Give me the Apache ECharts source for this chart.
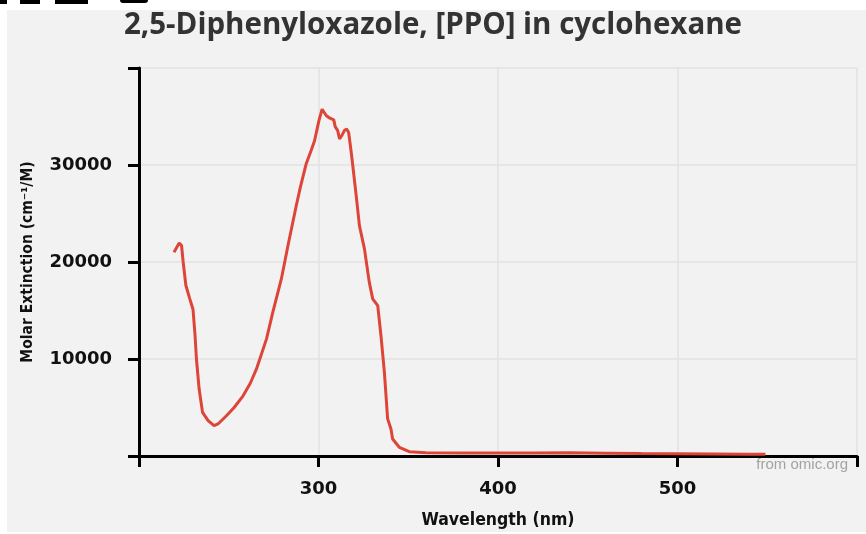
<!DOCTYPE html>
<html>
<head>
<meta charset="utf-8">
<script src="https://cdn.jsdelivr.net/npm/echarts@6/dist/echarts.min.js"></script>
<style>
html,body{margin:0;padding:0;background:#ffffff;width:866px;height:534px;overflow:hidden;}
#bg{position:absolute;left:7px;top:10px;width:859px;height:522px;background:#f2f2f2;}
.blob{position:absolute;top:0;height:4px;background:#000;}
#chart{position:absolute;left:0;top:0;width:866px;height:534px;}
</style>
</head>
<body>
<div id="bg"></div>
<div class="blob" style="left:0;width:7px"></div>
<div class="blob" style="left:20px;width:20px"></div>
<div class="blob" style="left:55px;width:33px"></div>
<div class="blob" style="left:120px;width:28px;height:3px;border-radius:0 0 14px 14px"></div>
<div id="chart"></div>
<script>
const titleText = '2,5-Diphenyloxazole, [PPO] in cyclohexane';
const xAxisName = 'Wavelength (nm)';
const yAxisName = 'Molar Extinction (cm\u207B\u00B9/M)';
const sourceText = 'from omic.org';
const xTicks = [200, 300, 400, 500, 600];
const yTicks = [0, 10000, 20000, 30000, 40000];

const wavelengths = [219.5, 222.4, 223.7, 224.6, 226.1, 228.3, 230.1, 231.2, 232.0, 233.5,
  235.4, 238.5, 241.8, 244.0, 248.7, 253.0, 258.0, 262.0, 265.4, 271.0,
  274.6, 279.3, 283.0, 287.6, 290.0, 293.1, 295.9, 297.8, 300.2, 302.0,
  304.3, 306.1, 308.5, 309.3, 310.7, 311.7, 312.9, 314.4, 315.7, 316.8,
  318.1, 319.0, 321.0, 322.8, 325.6, 328.3, 330.2, 333.0, 334.8, 336.7,
  338.5, 340.4, 341.3, 345.0, 350.6, 359.8, 380, 400, 420, 440,
  460, 480, 500, 520, 540, 549];
const extinction = [21000, 21950, 21700, 20000, 17600, 16200, 15100, 12500, 10000, 6900,
  4500, 3650, 3120, 3300, 4150, 5000, 6200, 7500, 8950, 12050,
  14850, 18250, 21700, 25800, 27800, 30100, 31500, 32500, 34550, 35750,
  35100, 34850, 34650, 33950, 33550, 32700, 33000, 33550, 33700, 33350,
  31500, 30100, 26850, 23750, 21350, 17900, 16200, 15500, 12400, 8650,
  3850, 2750, 1750, 900, 450, 340, 310, 320, 300, 330,
  290, 250, 230, 210, 180, 170];

const seriesData = wavelengths.map((w, i) => [w, extinction[i]]);

const chart = echarts.init(document.getElementById('chart'), null, {renderer: 'canvas'});
chart.setOption({
  backgroundColor: 'transparent',
  animation: false,
  title: {
    text: titleText,
    left: 'center',
    top: 6,
    textStyle: {fontFamily: 'Open Sans', fontWeight: 'bold', fontSize: 29.5, color: '#333333'}
  },
  graphic: [{
    type: 'text',
    right: 18,
    top: 457,
    style: {text: sourceText, fill: '#a3a3a3', font: '15px "Liberation Sans"'}
  }],
  grid: {left: 139, right: 9, top: 68, bottom: 77},
  xAxis: {
    type: 'value',
    min: xTicks[0], max: xTicks[xTicks.length - 1], interval: 100,
    name: xAxisName,
    nameLocation: 'middle',
    nameGap: 55,
    nameTextStyle: {fontFamily: 'DejaVu Sans Condensed', fontWeight: 'bold', fontSize: 17.5, color: '#111'},
    axisLine: {show: true, lineStyle: {color: '#000', width: 3}},
    axisTick: {show: true, length: 11, lineStyle: {color: '#000', width: 3}},
    axisLabel: {
      margin: 24,
      fontFamily: 'DejaVu Sans', fontWeight: 'bold', fontSize: 18, color: '#111',
      formatter: v => (v === xTicks[0] || v === xTicks[xTicks.length - 1]) ? '' : String(v)
    },
    splitLine: {show: true, lineStyle: {color: '#e2e2e2', width: 1.5}}
  },
  yAxis: {
    type: 'value',
    min: yTicks[0], max: yTicks[yTicks.length - 1], interval: 10000,
    name: yAxisName,
    nameLocation: 'middle',
    nameGap: 103,
    nameTextStyle: {fontFamily: 'DejaVu Sans Condensed', fontWeight: 'bold', fontSize: 15.5, color: '#111'},
    axisLine: {show: true, lineStyle: {color: '#000', width: 3}},
    axisTick: {show: true, length: 11, lineStyle: {color: '#000', width: 3}},
    axisLabel: {
      margin: 27,
      fontFamily: 'DejaVu Sans', fontWeight: 'bold', fontSize: 18, color: '#111',
      formatter: v => (v === yTicks[0] || v === yTicks[yTicks.length - 1]) ? '' : String(v)
    },
    splitLine: {show: true, lineStyle: {color: '#e2e2e2', width: 1.5}}
  },
  series: [{
    type: 'line',
    data: seriesData,
    showSymbol: false,
    smooth: false,
    lineStyle: {color: '#dd4538', width: 3},
    z: 3
  }]
});
</script>
</body>
</html>
